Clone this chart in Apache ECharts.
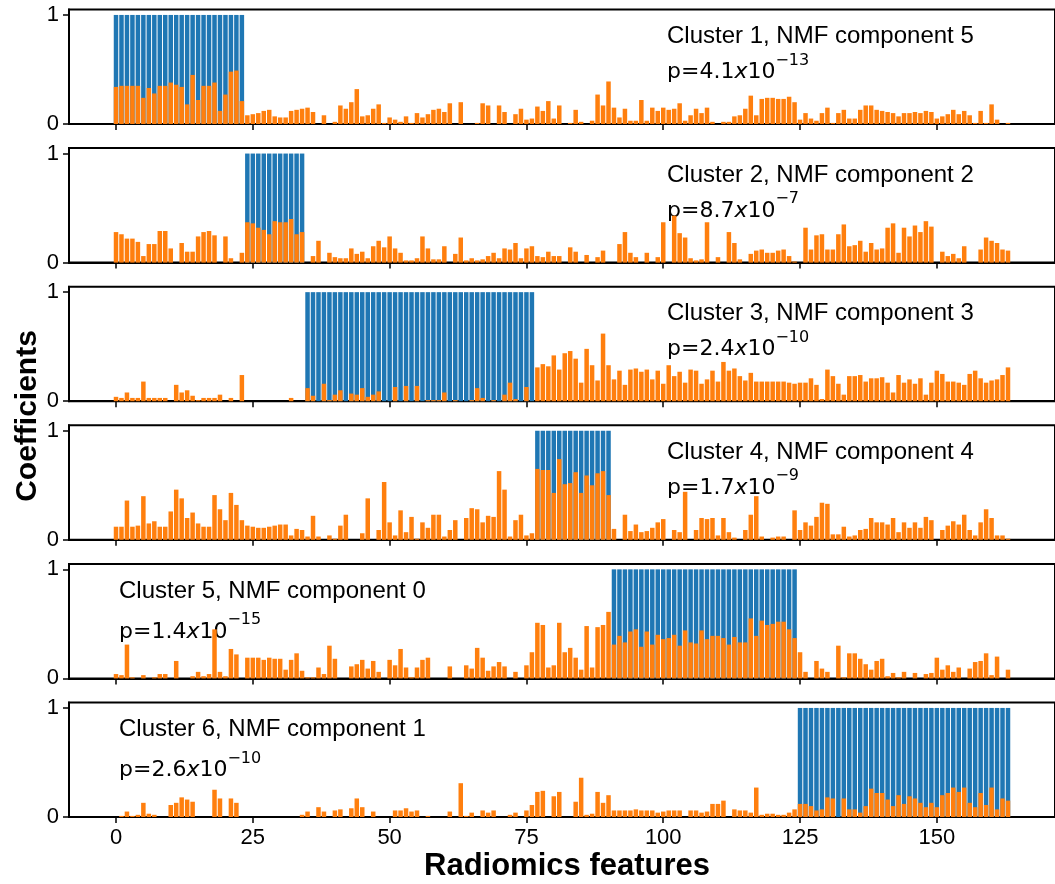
<!DOCTYPE html>
<html>
<head>
<meta charset="utf-8">
<script src="https://cdn.jsdelivr.net/npm/echarts@6/dist/echarts.min.js"></script>
<style>
  html, body { margin: 0; padding: 0; background: #fff; }
  #main { width: 1055px; height: 884px; }
</style>
</head>
<body>
<div id="main"></div>
<script>
// features in each cluster (blue bars, coefficient 1)
const clusterFirst = [0, 24, 35, 77, 91, 125];
const clusterLast = [23, 34, 76, 90, 124, 163];

const clusterNames = [
  'Cluster 1, NMF component 5',
  'Cluster 2, NMF component 2',
  'Cluster 3, NMF component 3',
  'Cluster 4, NMF component 4',
  'Cluster 5, NMF component 0',
  'Cluster 6, NMF component 1'
];
const pMantissa = ['4.1', '8.7', '2.4', '1.7', '1.4', '2.6'];
const pExponent = ['\u221213', '\u22127', '\u221210', '\u22129', '\u221215', '\u221210'];

const xTicks = [0, 25, 50, 75, 100, 125, 150];
const yTicks = [0, 1];

// NMF coefficients per radiomics feature (orange bars)
const coef1 = [
  0.34,0.35,0.35,0.35,0.35,0.24,0.33,0.28,0.35,0.35,0.38,0.36,0.34,0.18,0.45,0.22,0.35,0.35,0.38,0.12,
  0.27,0.48,0.49,0.21,0.08,0.09,0.10,0.12,0.13,0.07,0.06,0.06,0.12,0.13,0.14,0.15,0.11,0,0.08,0,
  0.02,0.17,0.14,0.20,0.32,0.07,0.08,0.14,0.18,0.01,0.06,0.04,0.02,0.07,0.01,0.10,0.06,0.09,0.13,0.14,
  0.11,0.19,0,0.20,0,0,0.01,0.19,0.17,0,0.17,0.11,0,0.09,0.14,0.04,0.05,0.16,0.12,0.21,
  0.05,0.17,0,0.01,0.13,0.02,0,0.03,0.27,0.17,0.39,0.15,0.06,0.14,0.03,0.03,0.22,0.03,0.15,0.12,
  0.15,0.13,0.14,0.19,0.03,0.08,0.14,0.10,0.15,0.02,0,0.02,0.02,0.07,0.08,0.14,0.26,0.08,0.23,0.24,
  0.24,0.23,0.23,0.25,0.20,0.04,0.10,0.05,0.03,0.10,0.15,0.01,0.10,0.13,0.05,0.05,0.13,0.17,0.17,0.13,
  0.12,0.11,0.10,0.07,0.10,0.10,0.11,0.10,0.12,0.11,0.05,0.07,0.09,0.13,0.09,0.12,0.08,0.01,0.12,0.01,
  0.18,0.04,0,0.01
];
const coef2 = [
  0.28,0.26,0.22,0.22,0.19,0.06,0.17,0.17,0.29,0.29,0.13,0,0.18,0.10,0.10,0.24,0.28,0.29,0.25,0,
  0.24,0.04,0,0.09,0.37,0.36,0.32,0.30,0.26,0.38,0.37,0.37,0.40,0.26,0.28,0,0.06,0.20,0,0.09,
  0.05,0.04,0.04,0.13,0.08,0.10,0.04,0.15,0.20,0.14,0.24,0.13,0.09,0.02,0.02,0.04,0.24,0.13,0.03,0.03,
  0.15,0,0.08,0.23,0.02,0.04,0.02,0.03,0.06,0.09,0.04,0.13,0.12,0.18,0.04,0.13,0.15,0.06,0.05,0.10,
  0.06,0.06,0,0.14,0.10,0,0.07,0,0.05,0.11,0,0,0.17,0.28,0.09,0.05,0,0.09,0,0.05,
  0.37,0,0.43,0.27,0.23,0.04,0.02,0.03,0.37,0,0.05,0,0.28,0.18,0.03,0,0.08,0.11,0.12,0.09,
  0.09,0.11,0.12,0.06,0.01,0,0.32,0.12,0.25,0.26,0.12,0.12,0.26,0.35,0.15,0.16,0.20,0.10,0.18,0.12,
  0.13,0.32,0.36,0.09,0.32,0.24,0.34,0.28,0.38,0.33,0,0.10,0.06,0.08,0.04,0.15,0,0,0.12,0.23,
  0.20,0.18,0.12,0.11
];
const coef3 = [
  0.04,0.03,0.08,0.03,0.03,0.18,0.03,0.03,0.03,0.03,0,0.15,0.08,0.10,0.05,0.01,0.03,0.03,0.03,0.06,
  0,0.03,0,0.24,0,0,0,0,0,0,0,0,0.03,0,0,0.12,0.05,0,0.16,0.01,
  0.06,0.10,0,0.07,0.06,0.12,0.04,0.06,0.09,0,0,0.13,0,0.14,0,0.14,0,0.01,0.01,0.01,
  0.08,0,0.01,0,0,0.01,0.12,0.03,0,0.01,0,0.06,0.17,0.02,0,0.13,0,0.31,0.34,0.32,
  0.42,0.29,0.44,0.46,0.39,0.17,0.48,0.33,0.19,0.62,0.33,0.20,0.28,0.15,0.29,0.30,0.27,0.29,0.20,0.28,
  0.16,0.33,0.23,0.27,0.17,0.29,0.28,0.16,0.20,0.28,0.18,0.36,0.28,0.30,0.23,0.19,0.26,0.18,0.18,0.18,
  0.18,0.18,0.18,0.17,0.16,0.17,0.17,0.21,0.15,0.02,0.29,0.23,0.16,0.06,0.23,0.23,0.24,0.18,0.21,0.21,
  0.22,0.17,0.08,0.24,0.17,0.20,0.16,0.21,0.06,0.17,0.28,0.25,0.18,0.18,0.17,0.15,0.25,0.28,0.21,0.17,
  0.19,0.20,0.24,0.31
];
const coef4 = [
  0.12,0.12,0.36,0.12,0.13,0.40,0.15,0.17,0.12,0.12,0.26,0.46,0.38,0.20,0.25,0.15,0.12,0.12,0.41,0.28,
  0.18,0.43,0.32,0.18,0.13,0.12,0.11,0.11,0.12,0.13,0.14,0.14,0.04,0.10,0.09,0.03,0.22,0.03,0,0.04,
  0.01,0.13,0.23,0,0,0.06,0.38,0,0.09,0.53,0.16,0.04,0.27,0.07,0.21,0.01,0.16,0.11,0.23,0.23,
  0.03,0.09,0.18,0,0.20,0.29,0.28,0.16,0.22,0.21,0.63,0.46,0.03,0.18,0.23,0.04,0.06,0.65,0.64,0.64,
  0.43,0.74,0.51,0.52,0.62,0.43,0.59,0.50,0.61,0.63,0.41,0.10,0,0.23,0.08,0.14,0.07,0.08,0.11,0.16,
  0.19,0,0.09,0.07,0.44,0,0.09,0.20,0.19,0.20,0.04,0.20,0.07,0.02,0,0.09,0.23,0.40,0.03,0,
  0.02,0.03,0.03,0,0.27,0.09,0.16,0.13,0.21,0.34,0.33,0.05,0.05,0.12,0.03,0.04,0.09,0.10,0.20,0.16,
  0.16,0.14,0.20,0.07,0.16,0.11,0.16,0.11,0.21,0.18,0,0.09,0.13,0.17,0.14,0.23,0.09,0.04,0.16,0.28,
  0.20,0.04,0.04,0.01
];
const coef5 = [
  0.04,0.03,0.31,0.01,0,0.03,0,0.01,0.04,0.04,0,0.16,0,0,0.02,0.06,0.02,0.04,0.45,0.06,
  0.02,0.27,0.22,0,0.19,0.19,0.19,0.17,0.19,0.18,0.18,0.08,0.17,0.23,0.07,0.01,0.01,0.10,0.04,0.30,
  0.18,0,0,0.11,0.13,0.17,0.09,0.16,0.06,0,0.17,0.12,0.27,0.10,0.01,0.10,0.17,0.19,0,0,
  0,0.11,0,0,0.12,0.09,0.28,0.19,0.07,0.11,0.15,0.11,0,0.06,0,0.12,0.24,0.51,0.49,0.10,
  0.12,0.51,0.24,0.28,0.19,0.08,0.48,0.10,0.47,0.49,0.61,0.31,0.39,0.33,0.43,0.45,0.29,0.43,0.31,0.40,
  0.36,0.37,0.40,0.30,0.44,0.33,0.32,0.44,0.36,0.39,0.39,0.37,0.31,0.38,0.33,0.33,0.55,0.39,0.53,0.49,
  0.50,0.52,0.52,0.45,0.37,0.24,0.06,0,0.16,0.09,0.06,0,0.30,0.01,0.23,0.23,0.18,0.13,0.08,0.16,
  0.18,0.02,0.05,0.01,0.06,0,0.05,0,0.04,0.05,0.19,0.08,0.12,0.06,0.10,0,0.09,0.15,0.16,0.23,
  0.03,0.20,0,0.08
];
const coef6 = [
  0,0.01,0.05,0.01,0.02,0.13,0.03,0.02,0,0,0.11,0.13,0.18,0.16,0.14,0,0,0,0.25,0.17,
  0,0.17,0.13,0,0,0,0,0,0,0,0,0,0,0,0.02,0.05,0,0.09,0.05,0,
  0.06,0.07,0,0.08,0.17,0.09,0,0.05,0,0,0,0.06,0.06,0.08,0.05,0.06,0,0.01,0,0,
  0,0.05,0,0.31,0.01,0.04,0,0.06,0.04,0.06,0,0,0.02,0.04,0,0.06,0.11,0.23,0.24,0,
  0.19,0.23,0,0,0.14,0.36,0.02,0.03,0.23,0.13,0.20,0.06,0.06,0.06,0.06,0.07,0.06,0.06,0.06,0.04,
  0.05,0.06,0.06,0.06,0,0.06,0.06,0.04,0.05,0.12,0.12,0.15,0,0.07,0.06,0.06,0.04,0.27,0.02,0.03,
  0.03,0.02,0.02,0.04,0.07,0.12,0.12,0.10,0.06,0.07,0.18,0.17,0,0.17,0.07,0.07,0.04,0.10,0.26,0.22,
  0.22,0.16,0.10,0.20,0.12,0.19,0.17,0.13,0.09,0.13,0.09,0.20,0.22,0.27,0.23,0.27,0.13,0.09,0.22,0.11,
  0.27,0.07,0.17,0.15
];
const coefs = [coef1, coef2, coef3, coef4, coef5, coef6];

const chart = echarts.init(document.getElementById('main'), null, { renderer: 'canvas' });

const panelTop = k => 9.5 + 138.6 * k;
const panelHeight = 114.5;
const tickFont = '"Liberation Sans", Arial, sans-serif';

let grids = [], xAxes = [], yAxes = [], series = [], texts = [];

coefs.forEach((coef, k) => {
  const last = k === coefs.length - 1;
  grids.push({
    left: 69, right: -9, top: panelTop(k), height: panelHeight,
    show: true, borderColor: '#000', borderWidth: 2, backgroundColor: 'transparent'
  });
  xAxes.push({
    type: 'value', gridIndex: k, min: -8.59, max: 171.59,
    axisLine: { show: true, onZero: false, lineStyle: { color: '#000', width: 2 } },
    axisTick: { show: true, length: 6, customValues: xTicks, lineStyle: { color: '#000', width: 1.5 } },
    axisLabel: { show: last, customValues: xTicks, color: '#000', fontSize: 22, fontFamily: tickFont, margin: 10 },
    splitLine: { show: false }
  });
  yAxes.push({
    type: 'value', gridIndex: k, min: 0, max: 1.05,
    axisLine: { show: true, onZero: false, lineStyle: { color: '#000', width: 2 } },
    axisTick: { show: true, length: 6, customValues: yTicks, lineStyle: { color: '#000', width: 1.5 } },
    axisLabel: { show: true, customValues: yTicks, color: '#000', fontSize: 22, fontFamily: tickFont, margin: 10 },
    splitLine: { show: false }
  });

  const members = [];
  for (let i = clusterFirst[k]; i <= clusterLast[k]; i++) members.push([i, 1]);
  series.push({
    type: 'bar', xAxisIndex: k, yAxisIndex: k, data: members,
    barWidth: 4.5, barGap: '-100%', itemStyle: { color: '#1f77b4' }, silent: true
  });
  series.push({
    type: 'bar', xAxisIndex: k, yAxisIndex: k, data: coef.map((v, i) => [i, v]),
    barWidth: 4.5, barGap: '-100%', itemStyle: { color: '#ff7f0e' }, silent: true
  });

  const leftText = k >= 4;
  const tx = leftText ? 119 : 667;
  texts.push({
    type: 'text', x: tx, y: panelTop(k) + 27,
    style: { text: clusterNames[k], fill: '#000', font: '24px ' + tickFont, verticalAlign: 'middle' }
  });
  texts.push({
    type: 'text', x: tx, y: panelTop(k) + (leftText ? 65 : 60),
    style: {
      text: '{b|p=' + pMantissa[k] + '}{i|x}{b|10}{s|' + pExponent[k] + '}',
      verticalAlign: 'middle',
      rich: {
        b: { fontSize: 22, fontFamily: '"DejaVu Sans"', fill: '#000', lineHeight: 34, verticalAlign: 'bottom', padding: [0, 0, 3, 0] },
        i: { fontSize: 22, fontFamily: '"DejaVu Sans"', fontStyle: 'italic', fill: '#000', lineHeight: 34, verticalAlign: 'bottom', padding: [0, 0, 3, 0] },
        s: { fontSize: 16, fontFamily: '"DejaVu Sans"', fill: '#000', lineHeight: 18, verticalAlign: 'top' }
      }
    }
  });
});

texts.push({
  type: 'text', x: 28, y: 416, rotation: Math.PI / 2,
  style: { text: 'Coefficients', fill: '#000', font: 'bold 30px ' + tickFont, align: 'center', verticalAlign: 'middle' }
});
texts.push({
  type: 'text', x: 567, y: 866,
  style: { text: 'Radiomics features', fill: '#000', font: 'bold 31px ' + tickFont, align: 'center', verticalAlign: 'middle' }
});

chart.setOption({
  animation: false,
  backgroundColor: '#fff',
  grid: grids,
  xAxis: xAxes,
  yAxis: yAxes,
  series: series,
  graphic: texts
});
</script>
</body>
</html>
